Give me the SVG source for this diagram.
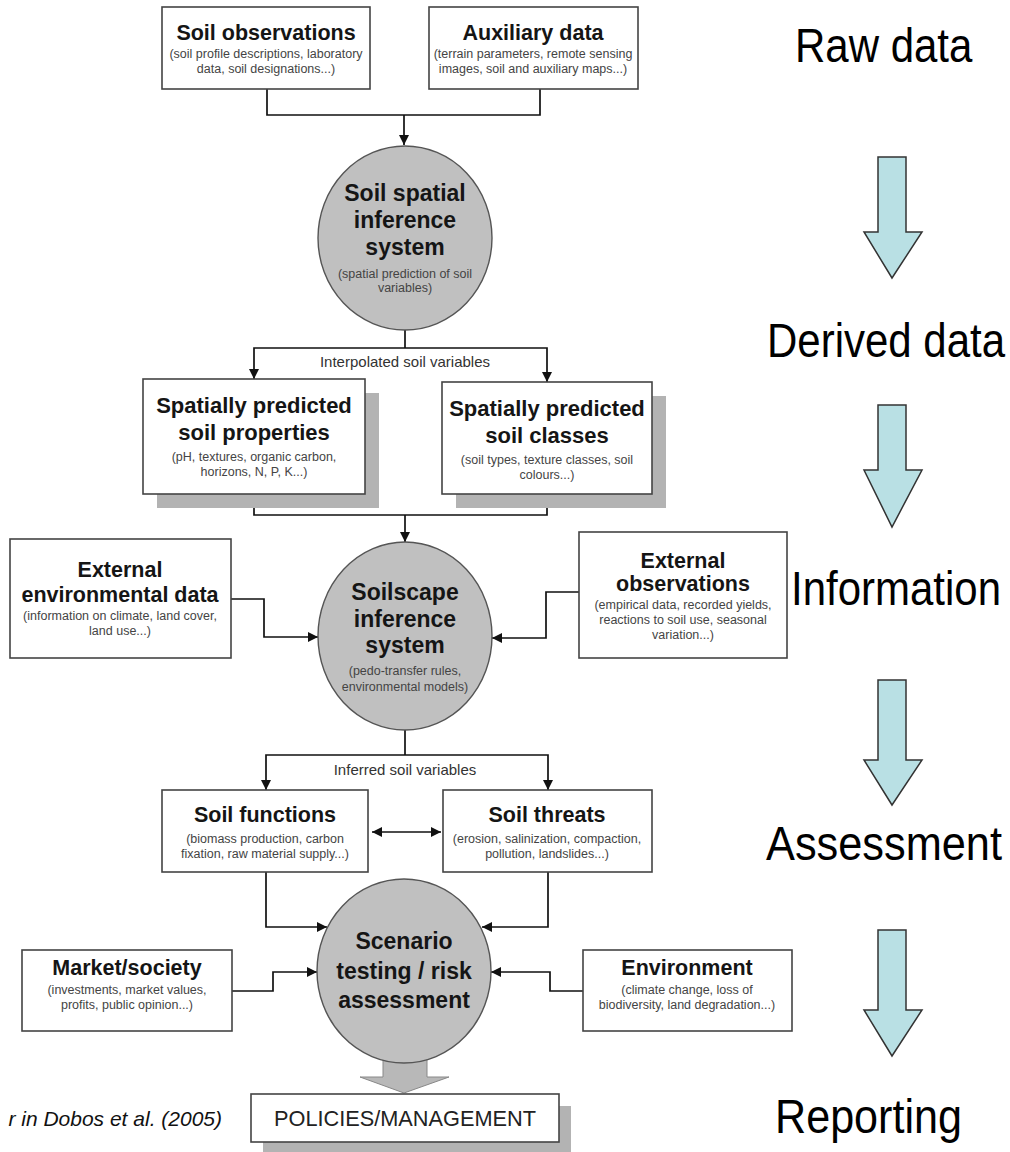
<svg xmlns="http://www.w3.org/2000/svg" width="1010" height="1152" viewBox="0 0 1010 1152">
<style>
.box{fill:#fff;stroke:#444;stroke-width:1.6}
.shadow{fill:#b3b3b3}
.circ{fill:#c0c0c0;stroke:#555;stroke-width:1.4}
.t{font-family:"Liberation Sans",Arial,sans-serif;font-weight:bold;font-size:21.5px;fill:#151515;text-anchor:middle}
.ct{font-family:"Liberation Sans",Arial,sans-serif;font-weight:bold;font-size:23px;fill:#151515;text-anchor:middle}
.s{font-family:"Liberation Sans",Arial,sans-serif;font-size:12.5px;fill:#444;text-anchor:middle}
.lab{font-family:"Liberation Sans",Arial,sans-serif;font-size:15px;fill:#333;text-anchor:middle}
.big{font-family:"Liberation Sans",Arial,sans-serif;font-size:42px;fill:#000}
.con{fill:none;stroke:#111;stroke-width:1.7}
.blue{fill:#b9e0e4;stroke:#333;stroke-width:1.5}
</style>
<defs>
<marker id="ah" viewBox="0 0 10 10" refX="10" refY="5" markerWidth="12" markerHeight="10" markerUnits="userSpaceOnUse" orient="auto-start-reverse"><path d="M0,0 L10,5 L0,10 z" fill="#111"/></marker>
</defs>

<g id="connectors">
<path class="con" d="M267,89 V115 H540 V89"/>
<path class="con" d="M404,115 V145" marker-end="url(#ah)"/>
<path class="con" d="M405,330 V348"/>
<path class="con" d="M254,379 V348 H547 V382" marker-start="url(#ah)" marker-end="url(#ah)"/>
<path class="con" d="M254,494 V515 H547 V494"/>
<path class="con" d="M405,515 V542" marker-end="url(#ah)"/>
<path class="con" d="M231,599 H264 V637 H318" marker-end="url(#ah)"/>
<path class="con" d="M579,592 H546 V638 H492" marker-end="url(#ah)"/>
<path class="con" d="M405,730 V755"/>
<path class="con" d="M266,790 V755 H548 V790" marker-start="url(#ah)" marker-end="url(#ah)"/>
<path class="con" d="M372,832 H441" marker-start="url(#ah)" marker-end="url(#ah)"/>
<path class="con" d="M266,872 V927 H327" marker-end="url(#ah)"/>
<path class="con" d="M548,872 V927 H482" marker-end="url(#ah)"/>
<path class="con" d="M232,991 H273 V972 H317" marker-end="url(#ah)"/>
<path class="con" d="M583,991 H550 V972 H491" marker-end="url(#ah)"/>
<polygon points="383,1045 383,1077 360,1077 404,1093 449,1077 427,1077 427,1045" fill="#b8b8b8" stroke="#888" stroke-width="1"/>
</g>

<g id="soil-observations">
<rect class="box" x="162" y="7" width="208" height="82"/>
<text class="t" x="266" y="40">Soil observations</text>
<text class="s" x="266" y="58">(soil profile descriptions, laboratory</text>
<text class="s" x="266" y="73">data, soil designations...)</text>
</g>

<g id="auxiliary-data">
<rect class="box" x="429" y="7" width="209" height="82"/>
<text class="t" x="533" y="40">Auxiliary data</text>
<text class="s" x="533" y="58">(terrain parameters, remote sensing</text>
<text class="s" x="533" y="73">images, soil and auxiliary maps...)</text>
</g>

<g id="soil-spatial-inference">
<ellipse class="circ" cx="405" cy="238" rx="87" ry="92"/>
<text class="ct" x="405" y="201">Soil spatial</text>
<text class="ct" x="405" y="228">inference</text>
<text class="ct" x="405" y="255">system</text>
<text class="s" x="405" y="278">(spatial prediction of soil</text>
<text class="s" x="405" y="292">variables)</text>
</g>

<g id="interpolated-label">
<text class="lab" x="405" y="367">Interpolated soil variables</text>
</g>

<g id="soil-properties">
<rect class="shadow" x="157" y="393" width="222" height="115"/>
<rect class="box" x="143" y="379" width="222" height="115"/>
<text class="t" x="254" y="413" style="font-size:22px">Spatially predicted</text>
<text class="t" x="254" y="440" style="font-size:22px">soil properties</text>
<text class="s" x="254" y="461">(pH, textures, organic carbon,</text>
<text class="s" x="254" y="476">horizons, N, P, K...)</text>
</g>

<g id="soil-classes">
<rect class="shadow" x="456" y="396" width="210" height="112"/>
<rect class="box" x="442" y="382" width="210" height="112"/>
<text class="t" x="547" y="416" style="font-size:22px">Spatially predicted</text>
<text class="t" x="547" y="443" style="font-size:22px">soil classes</text>
<text class="s" x="547" y="464">(soil types, texture classes, soil</text>
<text class="s" x="547" y="479">colours...)</text>
</g>

<g id="external-environmental-data">
<rect class="box" x="10" y="539" width="221" height="119"/>
<text class="t" x="120" y="577">External</text>
<text class="t" x="120" y="602">environmental data</text>
<text class="s" x="120" y="620">(information on climate, land cover,</text>
<text class="s" x="120" y="635">land use...)</text>
</g>

<g id="soilscape-inference">
<ellipse class="circ" cx="405" cy="636" rx="87" ry="94"/>
<text class="ct" x="405" y="600">Soilscape</text>
<text class="ct" x="405" y="627">inference</text>
<text class="ct" x="405" y="653">system</text>
<text class="s" x="405" y="675">(pedo-transfer rules,</text>
<text class="s" x="405" y="691">environmental models)</text>
</g>

<g id="external-observations">
<rect class="box" x="579" y="532" width="208" height="126"/>
<text class="t" x="683" y="568">External</text>
<text class="t" x="683" y="591">observations</text>
<text class="s" x="683" y="609">(empirical data, recorded yields,</text>
<text class="s" x="683" y="624">reactions to soil use, seasonal</text>
<text class="s" x="683" y="639">variation...)</text>
</g>

<g id="inferred-label">
<text class="lab" x="405" y="775">Inferred soil variables</text>
</g>

<g id="soil-functions">
<rect class="box" x="162" y="790" width="206" height="82"/>
<text class="t" x="265" y="822">Soil functions</text>
<text class="s" x="265" y="843">(biomass production, carbon</text>
<text class="s" x="265" y="858">fixation, raw material supply...)</text>
</g>

<g id="soil-threats">
<rect class="box" x="443" y="790" width="209" height="82"/>
<text class="t" x="547" y="822">Soil threats</text>
<text class="s" x="547" y="843">(erosion, salinization, compaction,</text>
<text class="s" x="547" y="858">pollution, landslides...)</text>
</g>

<g id="scenario-testing">
<ellipse class="circ" cx="404" cy="971" rx="87" ry="92"/>
<text class="ct" x="404" y="949">Scenario</text>
<text class="ct" x="404" y="979">testing / risk</text>
<text class="ct" x="404" y="1008">assessment</text>
</g>

<g id="market-society">
<rect class="box" x="22" y="950" width="210" height="81"/>
<text class="t" x="127" y="975">Market/society</text>
<text class="s" x="127" y="994">(investments, market values,</text>
<text class="s" x="127" y="1009">profits, public opinion...)</text>
</g>

<g id="environment">
<rect class="box" x="583" y="950" width="209" height="81"/>
<text class="t" x="687" y="975">Environment</text>
<text class="s" x="687" y="994">(climate change, loss of</text>
<text class="s" x="687" y="1009">biodiversity, land degradation...)</text>
</g>

<g id="policies-management">
<rect class="shadow" x="263" y="1106" width="308" height="50"/>
<rect class="box" x="251" y="1094" width="308" height="48"/>
<text x="405" y="1126" style="font-family:'Liberation Sans',Arial,sans-serif;font-size:22px;fill:#222;text-anchor:middle" textLength="262" lengthAdjust="spacingAndGlyphs">POLICIES/MANAGEMENT</text>
</g>

<g id="citation">
<text x="222" y="1126" style="font-family:'Liberation Sans',Arial,sans-serif;font-size:21px;font-style:italic;fill:#111;text-anchor:end">r in Dobos et al. (2005)</text>
</g>

<g id="stages">
<text class="big" transform="translate(795,62) scale(1,1.14)" x="0" y="0">Raw data</text>
<polygon class="blue" points="878,157 906,157 906,232 922,232 892,278 864,232 878,232"/>
<text class="big" transform="translate(767,357) scale(1,1.14)" x="0" y="0">Derived data</text>
<polygon class="blue" points="878,405 906,405 906,470 922,470 892,527 864,470 878,470"/>
<text class="big" transform="translate(791,605) scale(1,1.14)" x="0" y="0">Information</text>
<polygon class="blue" points="878,680 906,680 906,760 922,760 892,805 864,760 878,760"/>
<text class="big" transform="translate(766,860) scale(1,1.14)" x="0" y="0" textLength="236" lengthAdjust="spacingAndGlyphs">Assessment</text>
<polygon class="blue" points="878,930 906,930 906,1010 922,1010 892,1056 864,1010 878,1010"/>
<text class="big" transform="translate(775,1133) scale(1,1.14)" x="0" y="0" textLength="187" lengthAdjust="spacingAndGlyphs">Reporting</text>
</g>
</svg>
